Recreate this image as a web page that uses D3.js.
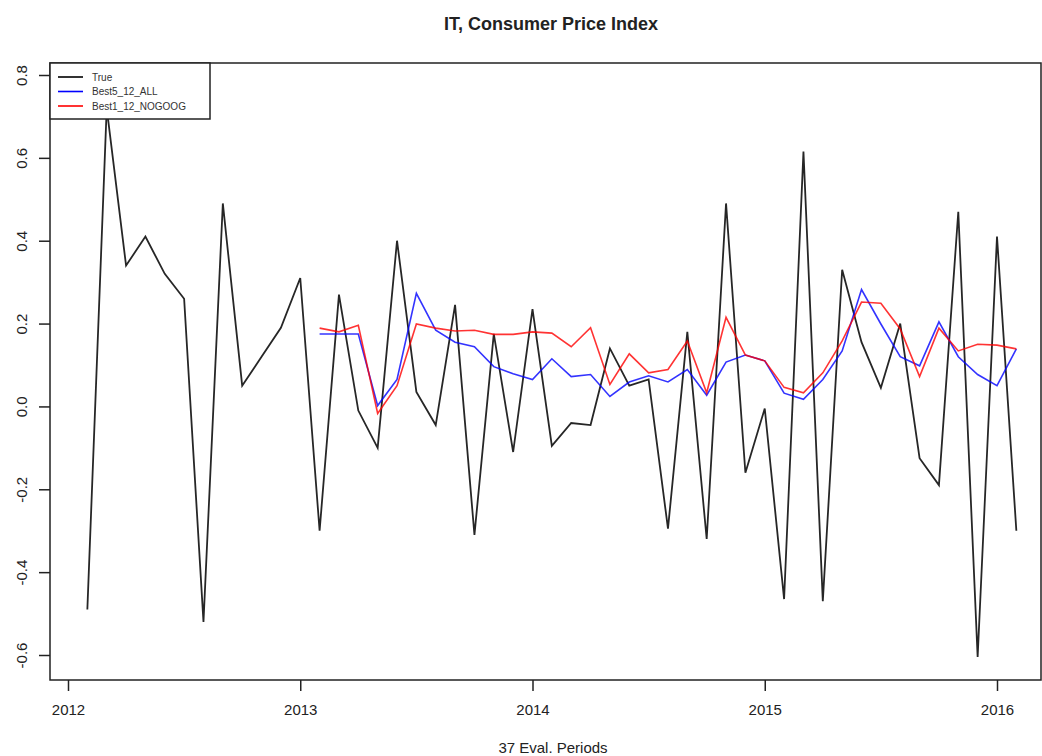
<!DOCTYPE html>
<html>
<head>
<meta charset="utf-8">
<script src="https://cdn.jsdelivr.net/npm/d3@7"></script>
<style>
  html, body { margin: 0; padding: 0; background: #fff; }
  svg { display: block; }
  text { font-family: "Liberation Sans", Arial, sans-serif; fill: #111; }
</style>
</head>
<body>
<svg id="chart" width="1042" height="756"></svg>
<script>
// ---- Data (monthly, Feb 2012 .. Feb 2016) ----
const chartTitle = "IT, Consumer Price Index";
const xAxisTitle = "37 Eval. Periods";
const seriesNames = ["True", "Best5_12_ALL", "Best1_12_NOGOOG"];
const seriesColors = ["#000000", "#0000ff", "#ff0000"];
const xTickValues = [2012, 2013, 2014, 2015, 2016];
const yTickValues = [-0.6, -0.4, -0.2, 0.0, 0.2, 0.4, 0.6, 0.8];

const trueStart = 2012 + 1 / 12;   // Feb 2012
const trueValues = [
  -0.49, 0.72, 0.34, 0.41, 0.32, 0.26, -0.52, 0.49, 0.05, 0.12, 0.19,
  0.31, -0.30, 0.27, -0.01, -0.10, 0.40, 0.035, -0.045, 0.245, -0.31, 0.175, -0.11,
  0.235, -0.095, -0.04, -0.045, 0.14, 0.05, 0.065, -0.295, 0.18, -0.32, 0.49, -0.16,
  -0.005, -0.465, 0.615, -0.47, 0.33, 0.155, 0.045, 0.20, -0.125, -0.19, 0.47, -0.605,
  0.41, -0.30
];

const fcStart = 2013 + 1 / 12;     // Feb 2013
const best5Values = [
  0.175, 0.175, 0.175, 0.002, 0.065, 0.273, 0.184, 0.155, 0.144, 0.096, 0.079,
  0.065, 0.115, 0.072, 0.077, 0.024, 0.059, 0.074, 0.059, 0.089, 0.027, 0.107, 0.124,
  0.110, 0.032, 0.017, 0.065, 0.134, 0.282, 0.199, 0.120, 0.098, 0.204, 0.120, 0.077,
  0.050, 0.139
];
const best1Values = [
  0.189, 0.180, 0.196, -0.017, 0.050, 0.199, 0.189, 0.182, 0.184, 0.174, 0.174,
  0.180, 0.177, 0.144, 0.190, 0.053, 0.127, 0.081, 0.089, 0.158, 0.033, 0.215, 0.124,
  0.110, 0.046, 0.033, 0.081, 0.158, 0.252, 0.249, 0.187, 0.072, 0.189, 0.134, 0.150,
  0.148, 0.139
];

// ---- Layout ----
const svg = d3.select("#chart");
const frame = { left: 50, top: 63, right: 1041, bottom: 680 };

const x = d3.scaleLinear().domain([2012, 2016]).range([68, 997]);
const y = d3.scaleLinear().domain([-0.6, 0.8]).range([655, 75]);

const toPts = (start, vals) => vals.map((v, i) => ({ t: start + i / 12, v }));
const series = [
  toPts(trueStart, trueValues),
  toPts(fcStart, best5Values),
  toPts(fcStart, best1Values)
];

const line = d3.line().x(d => x(d.t)).y(d => y(d.v));

// Lines
const widths = [1.8, 1.6, 1.6];
series.forEach((s, i) => {
  svg.append("path")
    .datum(s)
    .attr("d", line)
    .attr("fill", "none")
    .attr("stroke", seriesColors[i])
    .attr("stroke-opacity", i === 0 ? 0.85 : 0.8)
    .attr("stroke-width", widths[i])
    .attr("stroke-linejoin", "miter");
});

// Frame
svg.append("rect")
  .attr("x", frame.left).attr("y", frame.top)
  .attr("width", frame.right - frame.left)
  .attr("height", frame.bottom - frame.top)
  .attr("fill", "none").attr("stroke", "#222").attr("stroke-width", 1.5);

// Y axis
const yAxis = d3.axisLeft(y).tickValues(yTickValues).tickSize(11).tickFormat(d3.format(".1f"));
const gy = svg.append("g").attr("transform", `translate(${frame.left},0)`).call(yAxis);
gy.select(".domain").remove();
gy.selectAll(".tick line").attr("stroke", "#222").attr("stroke-width", 1.5);
gy.selectAll(".tick text").remove();
gy.selectAll(".tick").append("text")
  .attr("transform", "translate(-28,0) rotate(-90)")
  .attr("text-anchor", "middle")
  .attr("dy", "0.35em")
  .attr("font-size", 15)
  .style("fill", "#222")
  .text(d => d3.format(".1f")(d).replace("-", "\u2212").replace("\u2212", "-"));

// X axis
const xAxis = d3.axisBottom(x).tickValues(xTickValues).tickSize(11).tickFormat(d3.format("d"));
const gx = svg.append("g").attr("transform", `translate(0,${frame.bottom})`).call(xAxis);
gx.select(".domain").remove();
gx.selectAll(".tick line").attr("stroke", "#222").attr("stroke-width", 1.5);
gx.selectAll(".tick text")
  .attr("y", 30).attr("dy", "0.35em")
  .attr("font-size", 15)
  .style("font-family", "'Liberation Sans', Arial, sans-serif")
  .style("fill", "#222");

// Title
svg.append("text")
  .attr("x", 551).attr("y", 30)
  .attr("text-anchor", "middle")
  .attr("font-size", 18).attr("font-weight", "bold")
  .style("fill", "#222")
  .text(chartTitle);

// X axis title
svg.append("text")
  .attr("x", 553).attr("y", 753)
  .attr("text-anchor", "middle")
  .attr("font-size", 15)
  .style("fill", "#222")
  .text(xAxisTitle);

// Legend
const lg = svg.append("g");
lg.append("rect")
  .attr("x", frame.left).attr("y", frame.top)
  .attr("width", 160).attr("height", 56)
  .attr("fill", "#fff").attr("stroke", "#222").attr("stroke-width", 1.5);
seriesNames.forEach((name, i) => {
  const yy = 77 + i * 14.5;
  lg.append("line")
    .attr("x1", 58).attr("x2", 83).attr("y1", yy).attr("y2", yy)
    .attr("stroke", seriesColors[i]).attr("stroke-width", 1.6);
  lg.append("text")
    .attr("x", 92).attr("y", yy).attr("dy", "0.35em")
    .attr("font-size", 10)
    .style("fill", "#333")
    .text(name);
});
</script>
</body>
</html>
